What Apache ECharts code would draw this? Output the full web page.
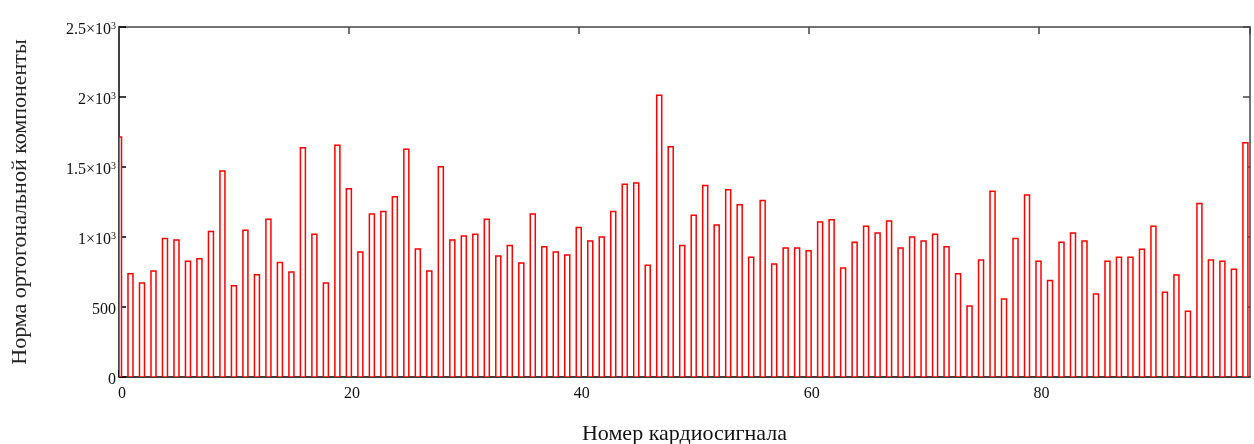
<!DOCTYPE html>
<html>
<head>
<meta charset="utf-8">
<script src="https://cdn.jsdelivr.net/npm/echarts@6/dist/echarts.min.js"></script>
<style>
  html, body { margin: 0; padding: 0; background: #fff; }
  #chart { width: 1254px; height: 444px; }
</style>
</head>
<body>
<div id="chart"></div>
<script>
// Норма ортогональной компоненты для каждого кардиосигнала (номера 0..98)
const norms = [
  1714, 738, 671, 757, 990, 979, 826, 845, 1040, 1471,
  652, 1048, 731, 1126, 817, 750, 1638, 1019, 671, 1655,
  1345, 893, 1164, 1183, 1288, 1626, 914, 757, 1502, 979,
  1007, 1019, 1126, 864, 940, 814, 1164, 931, 893, 871,
  1067, 971, 1000, 1183, 1376, 1386, 798, 2012, 1645, 940,
  1155, 1367, 1086, 1338, 1231, 855, 1260, 807, 921, 921,
  902, 1107, 1124, 779, 962, 1076, 1029, 1114, 921, 1000,
  971, 1019, 931, 738, 507, 836, 1326, 557, 990, 1300,
  826, 690, 962, 1029, 971, 593, 826, 855, 855, 912,
  1076, 605, 729, 469, 1240, 836, 826, 769, 1674
];
const signalNumbers = norms.map((_, i) => i);

// Подписи делений
const xTickValues = [0, 20, 40, 60, 80];
const yTickLabels = {
  0: '0',
  500: '500',
  1000: '{b|1×10}{s|3}',
  1500: '{b|1.5×10}{s|3}',
  2000: '{b|2×10}{s|3}',
  2500: '{b|2.5×10}{s|3}'
};

const xName = 'Номер кардиосигнала';
const yName = 'Норма ортогональной компоненты';

const FONT = '"Liberation Serif", "DejaVu Serif", serif';
const X_MAX = 98.4;
const BAR_W = 5;

const chart = echarts.init(document.getElementById('chart'), null, { renderer: 'canvas' });

const tickStyleOuter = { show: true, inside: true, length: 7, lineStyle: { color: '#000', width: 1.5 } };
const tickStyleInner = { show: true, inside: true, length: 7, lineStyle: { color: '#444', width: 1.5 } };

// Столбец-контур, обрезанный по области построения
function renderBar(params, api) {
  const x = api.value(0);
  const y = api.value(1);
  const base = api.coord([x, 0]);
  const top = api.coord([x, y]);
  const rect = echarts.graphic.clipRectByRect(
    { x: base[0] - BAR_W / 2, y: top[1], width: BAR_W, height: base[1] - top[1] },
    params.coordSys
  );
  if (!rect) return null;
  return {
    type: 'rect',
    shape: rect,
    style: { fill: '#fff', stroke: '#ff0000', lineWidth: 1.5 }
  };
}

chart.setOption({
  animation: false,
  backgroundColor: '#fff',
  grid: { left: 119, right: 4, top: 27, bottom: 67, containLabel: false, outerBoundsMode: 'none' },
  xAxis: [
    {
      type: 'value', min: 0, max: X_MAX, interval: 20, position: 'bottom',
      axisLine: { show: true, onZero: false, lineStyle: { color: '#000', width: 1.5 } },
      axisTick: tickStyleOuter,
      splitLine: { show: false },
      axisLabel: {
        show: true, margin: 9, showMaxLabel: false, padding: [0, 0, 0, 6],
        fontFamily: FONT, fontSize: 16, color: '#111',
        formatter: v => xTickValues.includes(v) ? String(v) : ''
      },
      name: xName, nameLocation: 'middle', nameGap: 46,
      nameTextStyle: { fontFamily: FONT, fontSize: 22, color: '#111' }
    },
    {
      type: 'value', min: 0, max: X_MAX, interval: 20, position: 'top',
      axisLine: { show: true, onZero: false, lineStyle: { color: '#444', width: 1.5 } },
      axisTick: tickStyleInner,
      axisLabel: { show: false },
      splitLine: { show: false }
    }
  ],
  yAxis: [
    {
      type: 'value', min: 0, max: 2500, interval: 500, position: 'left',
      axisLine: { show: true, onZero: false, lineStyle: { color: '#000', width: 1.5 } },
      axisTick: tickStyleOuter,
      splitLine: { show: false },
      axisLabel: {
        show: true, margin: 3, padding: [6, 0, 0, 0],
        fontFamily: FONT, fontSize: 16, color: '#111',
        formatter: v => yTickLabels[v] ?? '',
        rich: {
          b: { fontFamily: FONT, fontSize: 16, lineHeight: 18, color: '#111' },
          s: { fontFamily: FONT, fontSize: 10, lineHeight: 10, verticalAlign: 'top', color: '#111' }
        }
      },
      name: yName, nameLocation: 'middle', nameGap: 88, nameRotate: 90,
      nameTextStyle: { fontFamily: FONT, fontSize: 22, color: '#222' }
    },
    {
      type: 'value', min: 0, max: 2500, interval: 500, position: 'right',
      axisLine: { show: true, onZero: false, lineStyle: { color: '#444', width: 1.5 } },
      axisTick: tickStyleInner,
      axisLabel: { show: false },
      splitLine: { show: false }
    }
  ],
  series: [
    {
      type: 'custom',
      xAxisIndex: 0,
      yAxisIndex: 0,
      renderItem: renderBar,
      encode: { x: 0, y: 1 },
      data: signalNumbers.map(i => [i, norms[i]]),
      clip: true,
      z: 1
    }
  ]
});
</script>
</body>
</html>
